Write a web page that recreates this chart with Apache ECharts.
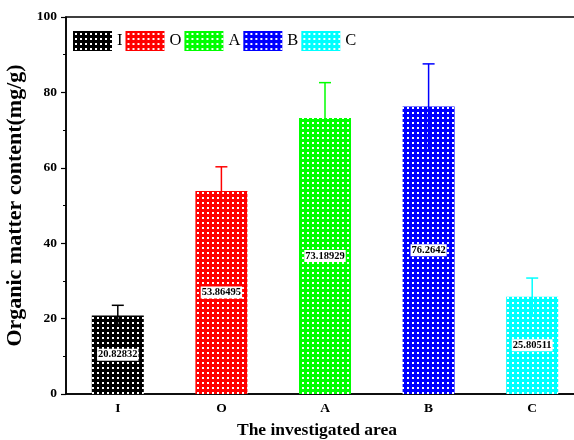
<!DOCTYPE html>
<html>
<head>
<meta charset="utf-8">
<script src="https://cdn.jsdelivr.net/npm/echarts@6/dist/echarts.min.js"></script>
<style>html,body{margin:0;padding:0;background:#fff}#c{width:574px;height:440px}</style>
</head>
<body>
<div id="c"></div>
<script>
const categories = ['I', 'O', 'A', 'B', 'C'];
const values = [20.82832, 53.86495, 73.18929, 76.2642, 25.80511];
const valueLabels = ['20.82832', '53.86495', '73.18929', '76.2642', '25.80511'];
const errors = [2.7, 6.4, 9.4, 11.3, 4.95];
const colors = ['#000000', '#ff0000', '#00ff00', '#0000ff', '#00ffff'];
const yTicks = [0, 20, 40, 60, 80, 100];

const FONT = '"Liberation Serif", "Times New Roman", serif';

function pattern(c) {
  const cv = document.createElement('canvas');
  cv.width = 5; cv.height = 5;
  const ctx = cv.getContext('2d');
  ctx.fillStyle = c; ctx.fillRect(0, 0, 5, 5);
  ctx.fillStyle = '#ffffff'; ctx.fillRect(2, 2, 2, 2);
  return { image: cv, repeat: 'repeat' };
}

const barSeries = categories.map((cat, i) => ({
  name: cat,
  type: 'bar',
  stack: 'all',
  barWidth: 52,
  data: categories.map((_, j) => j === i ? values[i] : '-'),
  itemStyle: { color: pattern(colors[i]) },
  label: {
    show: true,
    position: 'inside',
    formatter: () => valueLabels[i],
    color: '#000',
    fontFamily: FONT,
    fontWeight: 'bold',
    fontSize: 10.5,
    backgroundColor: '#fff',
    padding: [1, 1, 0, 1]
  }
}));

const errSeries = {
  type: 'custom',
  name: 'err',
  z: 5,
  data: categories.map((c, i) => [i, values[i], errors[i]]),
  renderItem: function (params, api) {
    const i = api.value(0);
    const v = api.value(1), e = api.value(2);
    const top = api.coord([i, v + e]);
    const bot = api.coord([i, v - e]);
    const col = colors[i];
    return {
      type: 'group',
      children: [
        { type: 'line', shape: { x1: top[0], y1: top[1], x2: bot[0], y2: bot[1] }, style: { stroke: col, lineWidth: 1.5 } },
        { type: 'line', shape: { x1: top[0] - 6, y1: top[1], x2: top[0] + 6, y2: top[1] }, style: { stroke: col, lineWidth: 1.5 } }
      ]
    };
  }
};

const chart = echarts.init(document.getElementById('c'));
chart.setOption({
  animation: false,
  backgroundColor: '#fff',
  grid: { left: 66, top: 17, bottom: 46, width: 518, outerBoundsMode: 'none', containLabel: false, show: true, borderColor: '#000', borderWidth: 1.5, backgroundColor: 'transparent' },
  legend: {
    data: categories,
    left: 73, top: 31,
    padding: 0,
    itemWidth: 39, itemHeight: 20, itemGap: 3,
    icon: 'rect',
    textStyle: { fontFamily: FONT, fontSize: 16.5, color: '#000' }
  },
  xAxis: {
    type: 'category',
    data: categories,
    name: 'The investigated area',
    nameLocation: 'middle',
    nameGap: 27,
    nameTextStyle: { fontFamily: FONT, fontWeight: 'bold', fontSize: 17.5, color: '#000', padding: [0, 16, 0, 0] },
    axisLine: { lineStyle: { color: '#000', width: 1.5 } },
    axisTick: { show: false },
    axisLabel: { fontFamily: FONT, fontWeight: 'bold', fontSize: 13.5, color: '#000', margin: 8 }
  },
  yAxis: {
    type: 'value',
    min: yTicks[0], max: yTicks[yTicks.length - 1], interval: 20,
    name: 'Organic matter content(mg/g)',
    nameLocation: 'middle',
    nameGap: 32,
    nameTextStyle: { fontFamily: FONT, fontWeight: 'bold', fontSize: 22, color: '#000' },
    axisLine: { show: true, lineStyle: { color: '#000', width: 1.5 } },
    axisTick: { show: true, inside: false, length: 5, lineStyle: { color: '#000', width: 1.2 } },
    minorTick: { show: true, splitNumber: 2, length: 3, lineStyle: { color: '#000', width: 1 } },
    splitLine: { show: false },
    axisLabel: { fontFamily: FONT, fontWeight: 'bold', fontSize: 13.5, color: '#000', margin: 9 }
  },
  series: [...barSeries, errSeries]
});
</script>
</body>
</html>
